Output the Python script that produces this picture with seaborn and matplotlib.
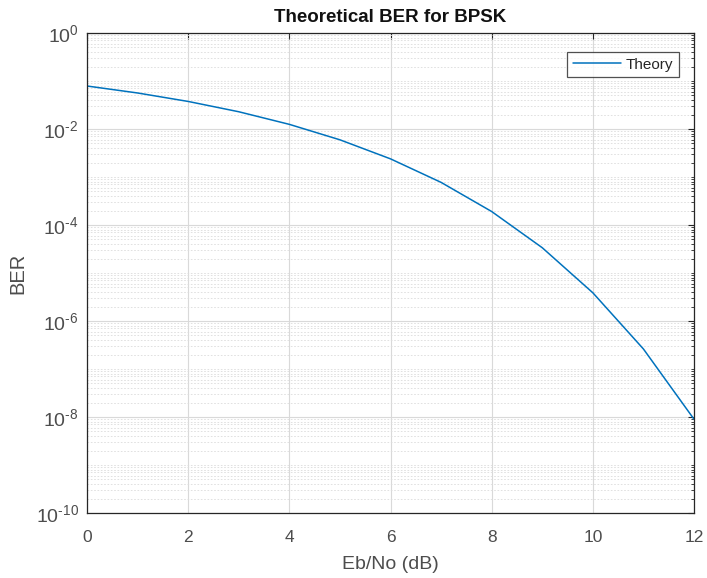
import numpy as np
import pandas as pd
import matplotlib
matplotlib.use("Agg")
import matplotlib.pyplot as plt
import matplotlib.ticker as mticker
import seaborn as sns

ebno_db = [0, 1, 2, 3, 4, 5, 6, 7, 8, 9, 10, 11, 12]
ber = [7.865e-2, 5.628e-2, 3.751e-2, 2.288e-2, 1.250e-2, 5.954e-3, 2.388e-3,
       7.727e-4, 1.909e-4, 3.363e-5, 3.872e-6, 2.613e-7, 9.006e-9]
series_name = "Theory"
title = "Theoretical BER for BPSK"
xlabel = "Eb/No (dB)"
ylabel = "BER"
xticks = [0, 2, 4, 6, 8, 10, 12]
yticks_exp = [0, -2, -4, -6, -8, -10]

sns.set_style("white")
plt.rcParams['font.family'] = ['Liberation Sans', 'DejaVu Sans']
plt.rcParams['mathtext.fontset'] = 'custom'
plt.rcParams['mathtext.rm'] = 'Liberation Sans'
plt.rcParams['mathtext.it'] = 'Liberation Sans'
plt.rcParams['axes.unicode_minus'] = False

df = pd.DataFrame({"x": ebno_db, "y": ber, "s": series_name})

def ylab(e):
    s = str(e)
    if s.startswith("-"):
        return r"$10^{\text{-}%s}$" % s[1:]
    return r"$10^{%s}$" % s

fig = plt.figure(figsize=(7.07, 5.78), dpi=100)
ax = fig.add_axes([87/707, 1-513/578, (694-87)/707, (513-33)/578])
sns.lineplot(data=df, x="x", y="y", hue="s", palette=["#0072BD"], linewidth=1.1, ax=ax)
ax.set_yscale("log")
ax.set_xlim(0, 12)
ax.set_ylim(1e-10, 1)
ax.set_xticks(xticks)
ax.set_xticklabels([str(t) for t in xticks])
ax.set_yticks([10.0**e for e in yticks_exp])
ax.set_yticklabels([ylab(e) for e in yticks_exp])
ax.yaxis.set_minor_locator(mticker.LogLocator(base=10, subs=np.arange(1, 10), numticks=50))
ax.yaxis.set_minor_formatter(mticker.NullFormatter())
ax.grid(True, which="major", color="#d9d9d9", linewidth=0.8, linestyle="-")
ax.grid(True, which="minor", axis="y", color="#dcdcdc", linewidth=0.6, linestyle=(0, (2, 2)))
ax.tick_params(axis="both", which="both", direction="in", top=True, right=True,
               colors="#262626", labelcolor="#4d4d4d", labelsize=12.5)
ax.tick_params(axis="y", labelsize=14, pad=6)
ax.tick_params(which="major", length=4, width=0.8)
ax.tick_params(which="minor", length=2, width=0.6)
ax.tick_params(axis="x", pad=12)
for s in ax.spines.values():
    s.set_color("#262626")
    s.set_linewidth(0.9)
ax.set_title(title, fontsize=13.5, fontweight="bold", color="#111111", pad=8)
ax.set_xlabel(xlabel, fontsize=14, color="#4d4d4d", labelpad=8)
ax.set_ylabel(ylabel, fontsize=14.5, color="#4d4d4d", labelpad=6)
leg = ax.legend(loc="upper right", bbox_to_anchor=(0.975, 0.96), fontsize=11,
                frameon=True, fancybox=False, handlelength=3.2, borderpad=0.35,
                handletextpad=0.3, borderaxespad=0)
leg.get_frame().set_edgecolor("#262626")
leg.get_frame().set_linewidth(0.9)
for t in leg.get_texts():
    t.set_color("#262626")
fig.savefig("out.png", dpi=100)
